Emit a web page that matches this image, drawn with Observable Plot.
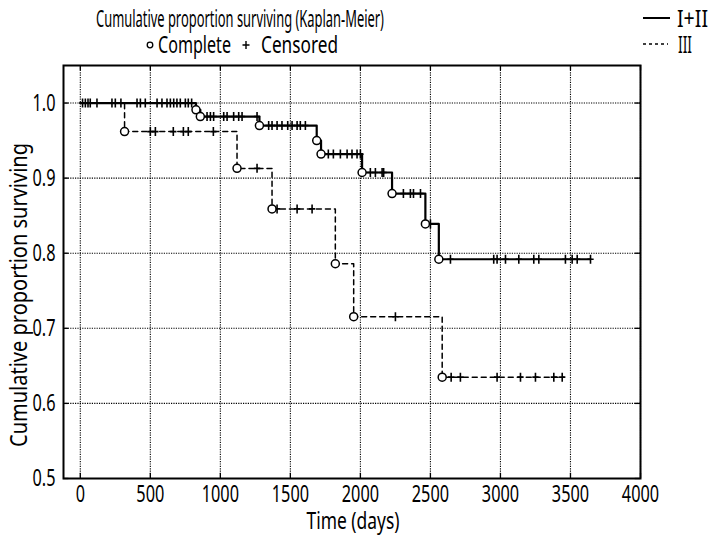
<!DOCTYPE html>
<html><head><meta charset="utf-8">
<script src="https://cdn.jsdelivr.net/npm/d3@7"></script>
<script src="https://cdn.jsdelivr.net/npm/@observablehq/plot@0.6"></script>
<style>body{margin:0;background:#fff}</style>
</head><body><div id="chart"></div>
<script>
const FONT = '"Noto Sans", "DejaVu Sans", sans-serif';
const groupNames = ["I+II", "III"];
const xTicks = [0, 500, 1000, 1500, 2000, 2500, 3000, 3500, 4000];
const yTicks = [0.5, 0.6, 0.7, 0.8, 0.9, 1.0];

// Group I+II
const eventTimesA = [826, 857, 1279, 1688, 1719, 2012, 2226, 2464, 2560];
const survivalA   = [0.991, 0.982, 0.970, 0.950, 0.932, 0.9075, 0.8795, 0.839, 0.792];
const censoredA = [16, 36, 55, 71, 119, 226, 405, 429, 464, 548, 583, 619, 643, 667, 690, 714, 750, 771, 795,
  905, 929, 952, 1024, 1048, 1095, 1131, 1155, 1262,
  1345, 1369, 1405, 1440, 1481, 1512, 1548, 1571, 1607,
  1771, 1807, 1857, 1905, 1940, 1976, 2000,
  2071, 2107, 2155, 2166,
  2307, 2357, 2379, 2429,
  2500,
  2643, 2952, 2976, 3036, 3131, 3238, 3274, 3464, 3512, 3548, 3643];
const lastTimeA = 3643;

// Group III
const eventTimesB = [316, 1119, 1369, 1821, 1952, 2584];
const survivalB   = [0.962, 0.913, 0.859, 0.786, 0.7155, 0.635];
const censoredB = [250, 290, 500, 536, 664, 736, 771, 950, 1262, 1405, 1548, 1655, 2250,
  2648, 2714, 2976, 3143, 3250, 3381, 3441];
const lastTimeB = 3452;

function survAt(times, surv, t) {
  let s = 1;
  for (let i = 0; i < times.length; i++) if (times[i] <= t) s = surv[i];
  return s;
}
function stepPath(group, times, surv, last) {
  const pts = [{group, t: 0, s: 1}];
  times.forEach((t, i) => pts.push({group, t, s: surv[i]}));
  pts.push({group, t: last, s: surv[surv.length - 1]});
  return pts;
}
const lineA = stepPath(groupNames[0], eventTimesA, survivalA, lastTimeA);
const lineB = stepPath(groupNames[1], eventTimesB, survivalB, lastTimeB);
const eventsAll = [
  ...eventTimesA.map((t, i) => ({t, s: survivalA[i]})),
  ...eventTimesB.map((t, i) => ({t, s: survivalB[i]}))
];
const censAll = [
  ...censoredA.map(t => ({t, s: survAt(eventTimesA, survivalA, t)})),
  ...censoredB.map(t => ({t, s: survAt(eventTimesB, survivalB, t)}))
];

const thinPlus = {
  draw(ctx, size) {
    const r = Math.sqrt(size / Math.PI);
    ctx.moveTo(0, -r); ctx.lineTo(0, r);
    ctx.moveTo(-r * 0.7, 0); ctx.lineTo(r * 0.7, 0);
  }
};

const xMin = -120, xMax = 4000, yMin = 0.5, yMax = 1.05;
const tickLenX = 0.007, tickLenY = 38;

const chart = Plot.plot({
  width: 720, height: 540,
  marginLeft: 63, marginRight: 80, marginTop: 65, marginBottom: 62,
  style: {fontFamily: FONT, fontSize: "24px", color: "black", background: "white"},
  x: {domain: [xMin, xMax]},
  y: {domain: [yMin, yMax]},
  marks: [
    Plot.gridX(xTicks, {stroke: "black", strokeOpacity: 1, strokeDasharray: "1.2,1.2", strokeWidth: 1.1}),
    Plot.gridY(yTicks, {stroke: "black", strokeOpacity: 1, strokeDasharray: "1.2,1.2", strokeWidth: 1.1}),
    Plot.axisX(xTicks, {anchor: "bottom", tickSize: 0, tickPadding: 6, label: null, tickFormat: d => String(d), fontSize: 24}),
    Plot.axisY(yTicks, {anchor: "left", tickSize: 0, tickPadding: 8, label: null, tickFormat: d3.format(".1f"), fontSize: 24}),
    // inward ticks on all four sides
    Plot.ruleX(xTicks, {x: d => d, y1: yMin, y2: yMin + tickLenX, stroke: "black", strokeWidth: 1.3}),
    Plot.ruleX(xTicks, {x: d => d, y1: yMax, y2: yMax - tickLenX, stroke: "black", strokeWidth: 1.3}),
    Plot.ruleY(yTicks, {y: d => d, x1: xMin, x2: xMin + tickLenY, stroke: "black", strokeWidth: 1.3}),
    Plot.ruleY(yTicks, {y: d => d, x1: xMax, x2: xMax - tickLenY, stroke: "black", strokeWidth: 1.3}),
    Plot.line(lineB, {x: "t", y: "s", curve: "step-after", stroke: "black", strokeWidth: 1.5, strokeDasharray: "5,4"}),
    Plot.line(lineA, {x: "t", y: "s", curve: "step-after", stroke: "black", strokeWidth: 2.2}),
    Plot.dot(censAll, {x: "t", y: "s", symbol: thinPlus, r: 4.5, stroke: "black", strokeWidth: 1.6, fill: "none"}),
    Plot.dot(eventsAll, {x: "t", y: "s", r: 4, stroke: "black", strokeWidth: 1.5, fill: "white"}),
    Plot.frame({stroke: "black", strokeWidth: 2})
  ]
});
document.getElementById("chart").appendChild(chart);

const svg = d3.select(chart);
// condense tick labels like the reference's narrow font
svg.selectAll('g[aria-label$="tick label"] text').each(function() {
  const w = this.getComputedTextLength();
  this.setAttribute("textLength", (w * 0.68).toFixed(1));
  this.setAttribute("lengthAdjust", "spacingAndGlyphs");
});

const txt = (x, y, s, anchor, width, size, extra) => {
  const t = svg.append("text").attr("x", x).attr("y", y).attr("text-anchor", anchor || "start")
    .attr("font-family", FONT).attr("font-size", size || 24).attr("fill", "black").text(s);
  if (width) t.attr("textLength", width).attr("lengthAdjust", "spacingAndGlyphs");
  if (extra) extra(t);
  return t;
};
// titles
txt(240, 27, "Cumulative proportion surviving (Kaplan-Meier)", "middle", 288, 24);
svg.append("circle").attr("cx", 150).attr("cy", 45).attr("r", 2.8).attr("fill", "white").attr("stroke", "black").attr("stroke-width", 1.3);
txt(158, 53, "Complete", "start", 73, 24);
svg.append("path").attr("d", "M246,41v8M242.5,45h7").attr("stroke", "black").attr("stroke-width", 1.4);
txt(261, 53, "Censored", "start", 77, 24);
// legend
svg.append("line").attr("x1", 643).attr("x2", 670).attr("y1", 18).attr("y2", 18).attr("stroke", "black").attr("stroke-width", 2);
txt(677, 27, groupNames[0], "start", 31, 24);
svg.append("line").attr("x1", 643).attr("x2", 668).attr("y1", 44).attr("y2", 44).attr("stroke", "black").attr("stroke-width", 1.5).attr("stroke-dasharray", "3,3");
txt(678, 53, groupNames[1], "start", 14, 24);
// axis labels
txt(353, 529, "Time (days)", "middle", 93);
txt(0, 0, "Cumulative proportion surviving", "middle", 304, 24, t => t.attr("transform", "translate(27,295) rotate(-90)"));
</script></body></html>
